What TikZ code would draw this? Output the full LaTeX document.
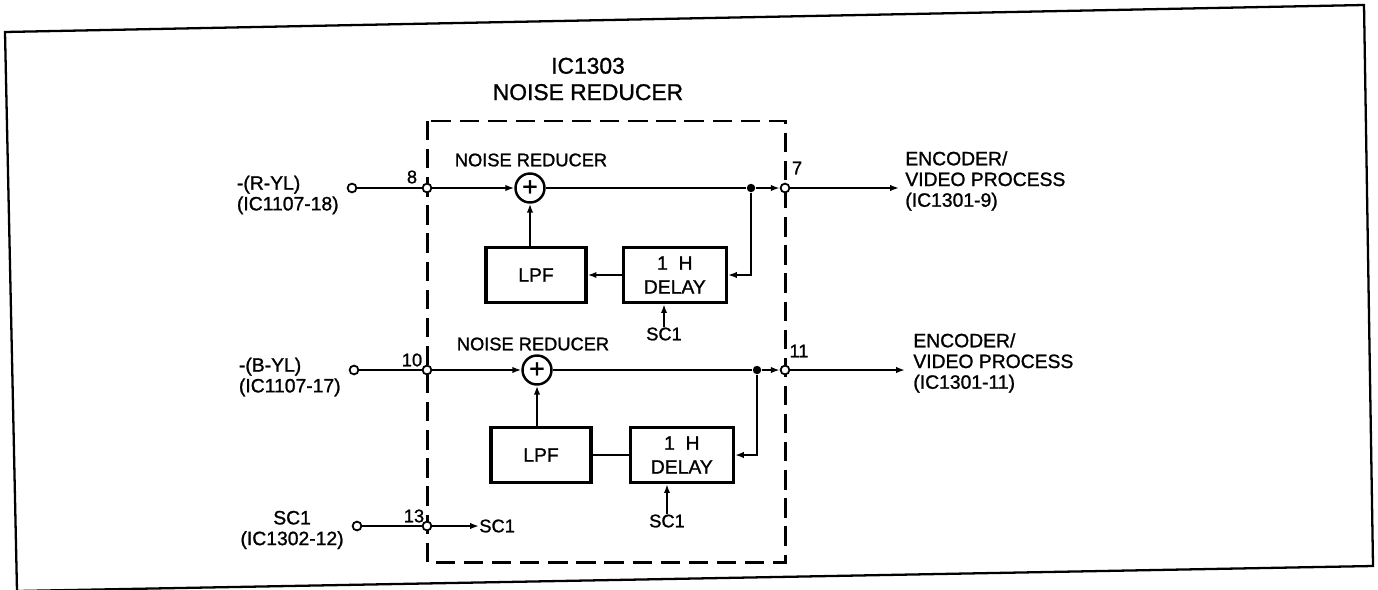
\documentclass[tikz,border=0pt]{standalone}
\usepackage{fontspec}
\setmainfont{Liberation Sans}[FakeBold=1.2]
\usetikzlibrary{positioning,arrows.meta}
\newcommand{\lblfont}{\fontsize{10.4}{12}\selectfont}
\newcommand{\iofont}{\fontsize{11}{11.8}\selectfont}
\newcommand{\ttlfont}{\fontsize{13}{15}\selectfont}
\tikzset{
  sig/.style={line width=1.4pt},
  arr/.style={sig,-{Latex[length=5pt,width=3.6pt]}},
  pin/.style={circle,draw,fill=white,line width=1pt,inner sep=0pt,minimum size=5pt},
  jdot/.style={circle,fill=black,inner sep=0pt,minimum size=4.8pt},
  blk/.style={draw,line width=1.9pt,minimum width=2cm,minimum height=1.1cm,align=center,
    font=\fontsize{11}{13.6}\selectfont},
  sumnd/.style={circle,draw,line width=1.4pt,minimum size=0.58cm,inner sep=0pt,
    font=\fontsize{15}{15}\selectfont},
  lbl/.style={font=\lblfont,inner sep=0pt},
  iolbl/.style={font=\iofont,inner sep=0pt},
  icbox/.style={line width=1.7pt,dash pattern=on 11pt off 5pt},
  frm/.style={line width=1.3pt},
}

\begin{document}
\begin{tikzpicture}[x=0.02cm,y=-0.02cm]
  \useasboundingbox (0,0) rectangle (1378,589);
  % outer frame, a little skewed as in the scan
  \draw[frm] (5,32) -- (1364,5) -- (1373,566) -- (17,591) -- cycle;
  % IC boundary
  \draw[icbox] (427,121) rectangle (785,562);
  \node[font=\ttlfont,align=center,inner sep=0pt] (ttl) at (588,79) {IC1303\\NOISE REDUCER};

  % -(R-YL) channel
  \node[pin] (in1) at (352,188) {};
  \node[pin] (p8) at (427,188) {};
  \node[sumnd] (s1) at (530,188) {+};
  \node[jdot] (j1) at (751,188) {};
  \node[pin] (p7) at (785,188) {};
  \coordinate (o1) at (899,188);
  \node[blk] (l1) at (536,275) {LPF};
  \node[blk,minimum width=2.06cm,right=0.68cm of l1] (d1) {1~~H\\DELAY};
  \node[lbl] (nr1) at (531,160) {NOISE REDUCER};
  \node[lbl] (sc1a) at (664,334) {SC1};
  \node[lbl] (n8) at (412,177) {8};
  \node[lbl] (n7) at (797,168) {7};
  \node[iolbl,anchor=east,align=left] (tin1) at (339,195) {-(R-YL)\\(IC1107-18)};
  \node[iolbl,anchor=west,align=left] (tout1) at (905,181) {ENCODER/\\VIDEO PROCESS\\(IC1301-9)};
  \draw[sig] (in1) -- (p8);
  \draw[arr] (p8) -- (s1);
  \draw[sig] (s1) -- (j1);
  \draw[arr] (j1) -- (p7);
  \draw[arr] (p7) -- (o1);
  \draw[arr] (j1) |- (d1.east);
  \draw[arr] (d1) -- (l1);
  \draw[arr] (l1.north -| s1) -- (s1);
  \draw[arr] (sc1a.north) -- (sc1a.north |- d1.south);

  % -(B-YL) channel
  \node[pin] (in2) at (354,370) {};
  \node[pin] (p10) at (427,370) {};
  \node[sumnd] (s2) at (537,370) {+};
  \node[jdot] (j2) at (757,370) {};
  \node[pin] (p11) at (785,370) {};
  \coordinate (o2) at (905,370);
  \node[blk] (l2) at (541,455) {LPF};
  \node[blk,minimum width=2.06cm,right=0.72cm of l2] (d2) {1~~H\\DELAY};
  \node[lbl] (nr2) at (533,344) {NOISE REDUCER};
  \node[lbl] (sc1b) at (667,521) {SC1};
  \node[lbl] (n10) at (412,360) {10};
  \node[lbl] (n11) at (799,351) {11};
  \node[iolbl,anchor=east,align=left] (tin2) at (341,377) {-(B-YL)\\(IC1107-17)};
  \node[iolbl,anchor=west,align=left] (tout2) at (913,363) {ENCODER/\\VIDEO PROCESS\\(IC1301-11)};
  \draw[sig] (in2) -- (p10);
  \draw[arr] (p10) -- (s2);
  \draw[sig] (s2) -- (j2);
  \draw[arr] (j2) -- (p11);
  \draw[arr] (p11) -- (o2);
  \draw[arr] (j2) |- (d2.east);
  \draw[sig] (l2) -- (d2);
  \draw[arr] (l2.north -| s2) -- (s2);
  \draw[arr] (sc1b.north) -- (sc1b.north |- d2.south);

  % SC1 in
  \node[pin] (in3) at (357,526) {};
  \node[pin] (p13) at (427,526) {};
  \node[lbl,anchor=west] (sc1c) at (479,526) {SC1};
  \node[lbl] (n13) at (414,516) {13};
  \node[iolbl,anchor=east,align=center] (tin3) at (344,530) {SC1\\(IC1302-12)};
  \draw[sig] (in3) -- (p13);
  \draw[arr] (p13) -- (sc1c);
\end{tikzpicture}
\end{document}
